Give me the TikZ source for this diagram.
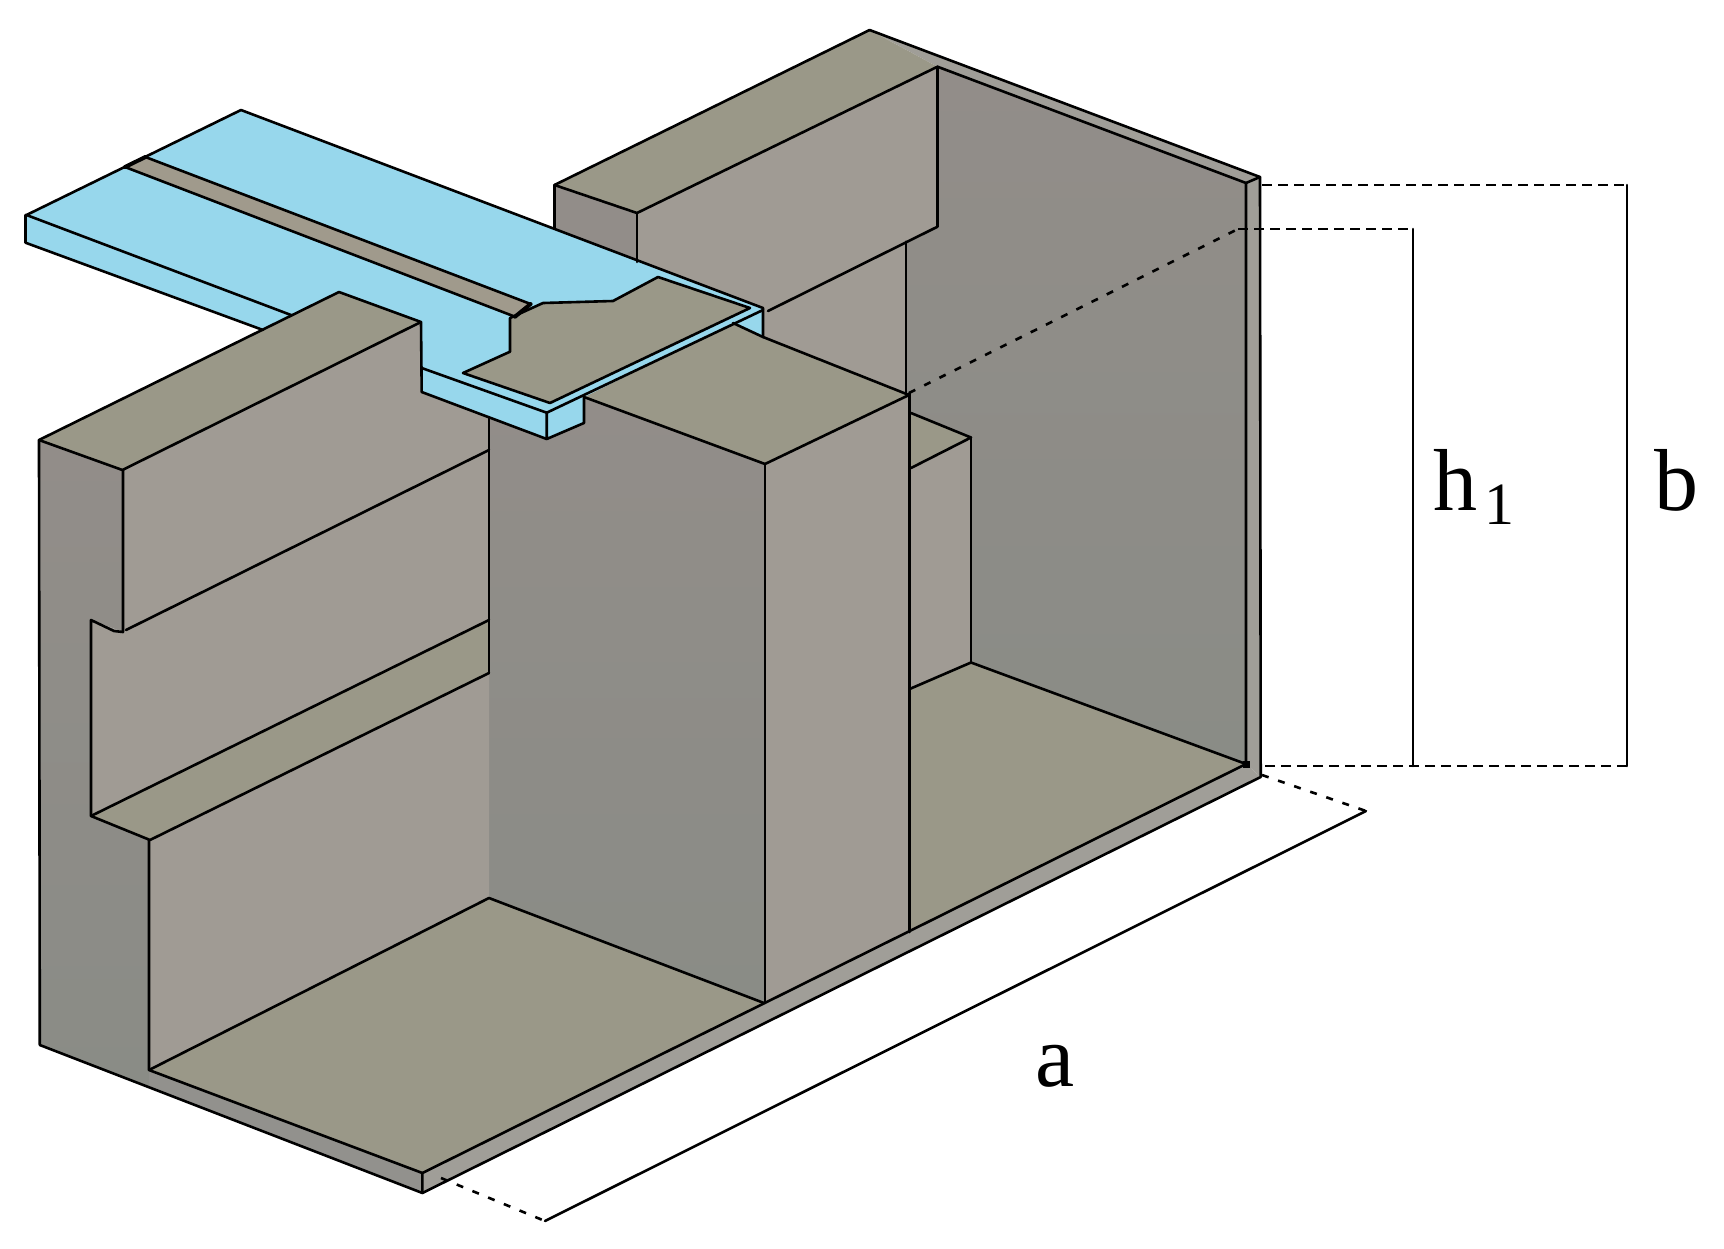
\documentclass[tikz,border=0pt]{standalone}
\usepackage{fontspec}
\setmainfont{Liberation Serif}
\definecolor{olive}{RGB}{154,152,136}
\definecolor{lightface}{RGB}{160,155,148}
\definecolor{darktop}{RGB}{146,141,137}
\definecolor{darkbot}{RGB}{138,140,134}
\definecolor{rim}{RGB}{160,158,152}
\definecolor{basedark}{RGB}{146,145,141}
\definecolor{sky}{RGB}{151,215,236}
\definecolor{slotfill}{RGB}{160,154,140}
\tikzset{
  edge/.style={line width=2.6pt,line join=round,line cap=round,black},
  dimdash/.style={line width=2.6pt,black,dash pattern=on 10pt off 6pt},
  sparse/.style={line width=2.6pt,black,dash pattern=on 7pt off 10pt},
  darkface/.style={top color=darktop,bottom color=darkbot,draw=none},
  lab/.style={inner sep=0pt,anchor=base west,font=\fontsize{88}{88}\selectfont}
}
\begin{document}
\begin{tikzpicture}[x=1pt,y=-1pt]
\useasboundingbox (0,0) rectangle (1724,1248);
\fill[white] (0,0) rectangle (1724,1248);
% ---- right part
\path[darkface] (937.5,66.7)--(1246,183)--(1246,764)--(971,662.5)--(971,437)--(906,413)--(906,241.7)--(937.5,226.7)--cycle;
\fill[rim] (869.6,30)--(1260,177)--(1246,183)--(937.5,66.7)--cycle;
\fill[rim] (1246,183)--(1260,177)--(1260.7,777)--(1246,764)--cycle;
\fill[olive] (554.5,185)--(869.6,30)--(937.5,66.7)--(637,213)--cycle;
\fill[darktop] (554.5,185)--(637,213)--(637,265)--(554.5,228)--cycle;
\fill[lightface] (637,213)--(937.5,66.7)--(937.5,226.7)--(906,241.7)--(906,395)--(765,338)--(637,270)--cycle;
\fill[lightface] (909,412)--(971,437)--(971,662.5)--(909,689)--cycle;
\fill[olive] (909,412)--(971,437.5)--(909,468)--cycle;
\fill[olive] (909,689)--(971,662.5)--(1246,764)--(909,932)--cycle;
\fill[rim] (422.4,1173)--(1246,764)--(1260.7,777)--(422.4,1193)--cycle;
\fill[basedark] (149,1070)--(422.4,1173)--(422.4,1193)--(149,1087)--cycle;
% ---- centre column
\path[darkface] (489,417)--(546,439)--(584,423)--(584,397)--(765,464)--(765,1003)--(489,898)--cycle;
\fill[lightface] (765,464)--(909,395)--(909.6,932)--(765,1003)--cycle;
\fill[olive] (584,397)--(733,323)--(763,337)--(909,395)--(765,464)--cycle;
% ---- blue strip
\fill[sky] (26.5,215)--(241,110)--(763,308)--(763,337)--(733,323)--(584,397)--(584,423)--(546.7,439)--(421.7,392)--(421.7,322)--(339,292)--(320,345)--(270,333)--(25.5,242.7)--cycle;
\fill[slotfill] (145.4,157)--(530.6,304)--(515,316.7)--(125,167)--cycle;
\fill[olive] (463,373)--(510,351.7)--(510,318)--(543,303)--(613,301)--(658,277)--(750,308)--(550,403)--cycle;
% ---- left block
\fill[lightface] (122.4,470)--(421,322)--(421.7,392)--(489,417)--(489,898)--(149,1070)--(149,840)--(91,816)--(91,620)--(123,632)--cycle;
\fill[olive] (91,816)--(489,620)--(489,673)--(150,840)--cycle;
\path[darkface] (39,440)--(122.4,470)--(123,632)--(91,620)--(91,816)--(150,840)--(149,1087)--(39.8,1045)--cycle;
\fill[olive] (39,440)--(339,292)--(421,322)--(122.4,470)--cycle;
\fill[olive] (149,1070)--(489,898)--(764,1003)--(422.4,1173)--cycle;
% ---- edges: outline
\draw[edge] (554.5,185)--(869.6,30)--(1260,177)--(1260.7,777)--(422.4,1193)--(39.8,1045)--(39,440)--(339,292)--(421,322)--(421.7,392)--(546.7,439);
\draw[edge] (554.5,185)--(637,213)--(937.5,66.7)--(1246,183)--(1246,764)--(971,662.5)--(909.6,689);
\draw[edge] (1246,183)--(1260,177);
\draw[edge] (554.5,185)--(554.5,228);
\draw[edge] (637,213)--(637,262);
\draw[edge] (937.5,66.7)--(937.5,226.7)--(768,311);
\draw[edge] (906,241.7)--(906,393);
\draw[edge] (909.5,393)--(909.5,932);
\draw[edge] (1246,764)--(422.4,1173)--(422.4,1193);
\draw[edge] (149,840)--(149,1070)--(422.4,1173);
\draw[edge] (149,1070)--(489,898)--(764,1003);
\draw[edge] (765,464)--(765,1003);
\draw[edge] (584,397)--(765,464)--(909,395)--(763,337)--(733,323);
\draw[edge] (911,413)--(971,437.5)--(911,468);
\draw[edge] (971,437.5)--(971,662.5);
% ---- edges: left block
\draw[edge] (39,440)--(122.4,470)--(421,322);
\draw[edge] (123,470)--(123,632)--(114,631)--(91,620)--(91,816)--(150,840)--(489,673);
\draw[edge] (91,816)--(489,620);
\draw[edge] (126,630)--(489,450);
\draw[edge] (489,417)--(489,673);
% ---- edges: blue strip
\draw[edge] (26.5,215)--(241,110)--(763,308)--(763,337);
\draw[edge] (26.5,215)--(291,315);
\draw[edge] (25.5,215)--(25.5,242.7)--(263,330);
\draw[edge] (145.4,157)--(530.6,304);
\draw[edge] (125,167)--(515,316.7);
\draw[edge,line width=4pt] (125,167)--(145.4,157);
\draw[edge,line width=4pt] (515,316.7)--(530.6,304);
\draw[edge] (463,373)--(510,351.7)--(510,318)--(543,303)--(613,301)--(658,277)--(750,308)--(550,403)--cycle;
\draw[edge] (421.7,368)--(546.7,412.7)--(763,310);
\draw[edge] (546.7,412.7)--(546.7,439)--(584,423)--(584,397);
% ---- dimensions
\fill[black] (1243,761) rectangle (1250,768);
\draw[dimdash] (1262,185)--(1627,185);
\draw[edge] (1627,185)--(1627,766);
\draw[dimdash] (1627,766)--(1262,766);
\draw[sparse] (909,393)--(1238,229);
\draw[dimdash] (1238,229)--(1413,229);
\draw[edge] (1413,229)--(1413,766);
\draw[sparse] (1262,775)--(1366,811);
\draw[edge] (1366,811)--(545,1221);
\draw[sparse] (441,1178)--(545,1221);
\node[lab] (hone) at (1433,510) {h\hspace{7pt}\raisebox{-14pt}{\fontsize{60}{60}\selectfont 1}};
\node[lab] (bee) at (1654,510) {b};
\node[lab] (ay) at (1035,1086) {a};
\end{tikzpicture}
\end{document}
